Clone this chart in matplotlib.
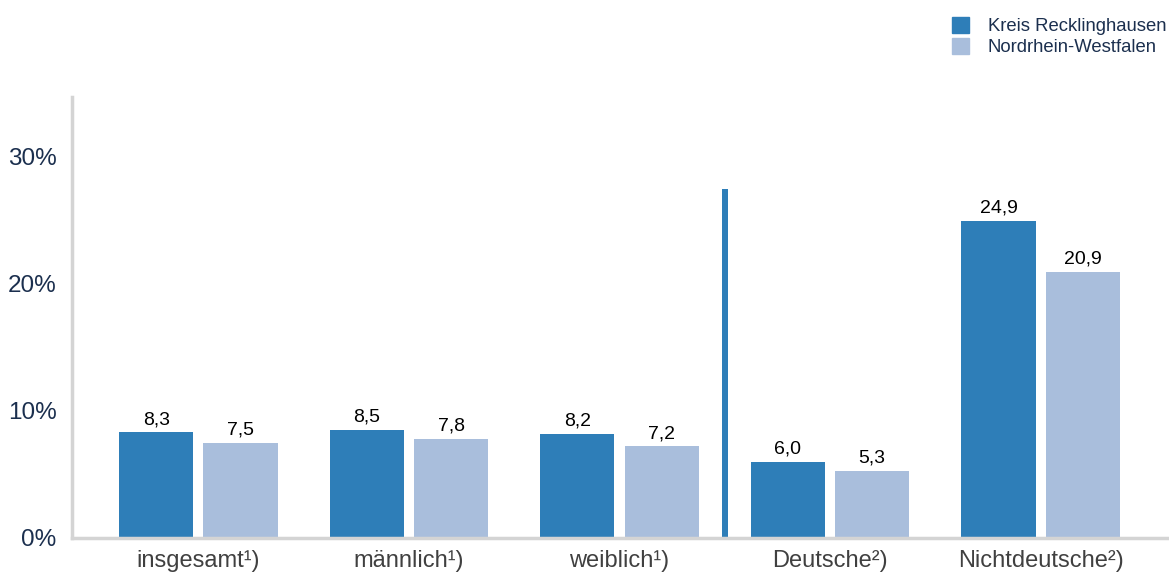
import matplotlib
matplotlib.use("Agg")
import matplotlib.pyplot as plt
import numpy as np
from matplotlib.patches import Patch

plt.rcParams['font.family'] = ['Liberation Sans', 'DejaVu Sans']

categories = ["insgesamt¹)", "männlich¹)", "weiblich¹)", "Deutsche²)", "Nichtdeutsche²)"]
kreis = [8.3, 8.5, 8.2, 6.0, 24.9]
nrw = [7.5, 7.8, 7.2, 5.3, 20.9]
series_names = ["Kreis Recklinghausen", "Nordrhein-Westfalen"]
yticks = [0, 10, 20, 30]
ytick_labels = ["0%", "10%", "20%", "30%"]
separator_height = 27.4

c_dark = "#2e7eb8"
c_light = "#a9bedc"

fig = plt.figure(figsize=(11.69, 5.76), dpi=100)
ax = fig.add_axes([0.0616, 0.066, 0.9367, 0.7655])

x = np.arange(len(categories))
w = 0.352
off = 0.2
b1 = ax.bar(x - off, kreis, w, color=c_dark, zorder=2)
b2 = ax.bar(x + off, nrw, w, color=c_light, zorder=2)

def fmt(v):
    return f"{v:.1f}".replace(".", ",")

for bars, vals in ((b1, kreis), (b2, nrw)):
    for r, v in zip(bars, vals):
        ax.annotate(fmt(v), (r.get_x() + r.get_width() / 2, v), xytext=(0, 3),
                    textcoords="offset points", ha="center", va="bottom",
                    fontsize=14, color="#000000")

# separator between groups
ax.bar([2.5], [separator_height], 0.028, color=c_dark, zorder=2)

ax.set_xlim(-0.6, 4.6)
ax.set_ylim(0, 34.65)
ax.set_yticks(yticks)
ax.set_yticklabels(ytick_labels, fontsize=17.5, color="#1b2f4e")
ax.set_xticks(x)
ax.set_xticklabels(categories, fontsize=17, color="#404040")
ax.tick_params(axis='both', length=0)
ax.tick_params(axis='y', pad=11)
ax.tick_params(axis='x', pad=9)

for s in ["top", "right"]:
    ax.spines[s].set_visible(False)
for s in ["left", "bottom"]:
    ax.spines[s].set_color("#d4d4d4")
    ax.spines[s].set_linewidth(2.5)

handles = [Patch(color=c_dark), Patch(color=c_light)]
fig.legend(handles, series_names, loc="upper left", bbox_to_anchor=(0.8, 1.0),
           frameon=False, fontsize=13.3, handlelength=0.95, handleheight=0.95,
           handletextpad=1.0, labelspacing=0.15, labelcolor="#1b2f4e")

fig.savefig("out.png", dpi=100)
